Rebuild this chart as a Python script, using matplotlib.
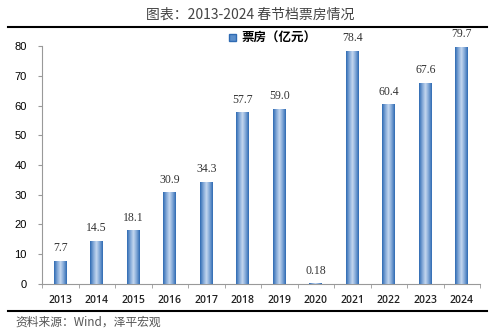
import numpy as np
import matplotlib
matplotlib.use("Agg")
import matplotlib.pyplot as plt
from matplotlib.colors import LinearSegmentedColormap
from matplotlib.patches import Rectangle
from matplotlib.lines import Line2D

plt.rcParams['font.family'] = ['Noto Sans CJK SC', 'DejaVu Sans']

years = ['2013', '2014', '2015', '2016', '2017', '2018',
         '2019', '2020', '2021', '2022', '2023', '2024']
box_office = [7.7, 14.5, 18.1, 30.9, 34.3, 57.7, 59.0, 0.18, 78.4, 60.4, 67.6, 79.7]
value_labels = ['7.7', '14.5', '18.1', '30.9', '34.3', '57.7',
                '59.0', '0.18', '78.4', '60.4', '67.6', '79.7']

# cylinder-like shading across each bar
shade = LinearSegmentedColormap.from_list(
    'shade', ['#2f6bb3', '#7fa6d6', '#c4d7ef', '#7fa6d6', '#2f6bb3'])
grad = np.linspace(0, 1, 64).reshape(1, -1)

fig = plt.figure(figsize=(5, 3.34), dpi=100)
ax = fig.add_axes([0.084, 0.15, 0.876, 0.712])

x = np.arange(len(years))
bars = ax.bar(x, box_office, width=0.35, color='#5b8fcb', zorder=2)
for b in bars:
    x0, y0 = b.get_x(), b.get_y()
    im = ax.imshow(grad, cmap=shade, aspect='auto', zorder=3,
                   extent=[x0, x0 + b.get_width(), y0, y0 + b.get_height()])
    im.set_clip_path(b)

for xi, v, s in zip(x, box_office, value_labels):
    ax.text(xi, v + 2.2, s, ha='center', va='bottom', fontsize=8.5,
            family='Liberation Serif', color='#333333')

ax.set_xlim(-0.5, len(years) - 0.5)
ax.set_ylim(0, 80)
ax.set_yticks(range(0, 81, 10))
ax.set_xticks(x)
ax.set_xticklabels(years, fontsize=7.5, family='Open Sans', fontweight='semibold', color='#222222')
ax.set_xticks(np.arange(-0.5, len(years), 1), minor=True)
ax.tick_params(axis='x', which='major', length=0, pad=8)
ax.tick_params(axis='x', which='minor', length=3, direction='out', color='#999999')
ax.tick_params(axis='y', length=3, direction='out', color='#999999', labelsize=8, pad=8)
for lab in ax.get_yticklabels():
    lab.set_family('Liberation Sans')
for sp in ['top', 'right']:
    ax.spines[sp].set_visible(False)
for sp in ['left', 'bottom']:
    ax.spines[sp].set_color('#999999')
    ax.spines[sp].set_linewidth(0.8)

# legend
handle = Rectangle((0, 0), 1, 1, facecolor='#5b8fcb', edgecolor='#2f6bb3')
fig.legend([handle], ['票房（亿元）'], loc='center', bbox_to_anchor=(0.545, 0.885),
           frameon=False, handlelength=0.6, handleheight=0.6, handletextpad=0.4,
           prop={'family': 'Noto Sans CJK SC', 'weight': 'bold', 'size': 9})

fig.text(0.5, 0.955, '图表：2013-2024 春节档票房情况', ha='center', va='center',
         fontsize=10, color='#444444')
fig.add_artist(Line2D([0.016, 0.974], [0.918, 0.918], color='black', lw=1.5))
fig.add_artist(Line2D([0.016, 0.974], [0.069, 0.069], color='black', lw=1.5))
fig.text(0.03, 0.035, '资料来源：Wind，泽平宏观', ha='left', va='center',
         fontsize=8.5, color='#555555')

fig.savefig('out.png', dpi=100)
